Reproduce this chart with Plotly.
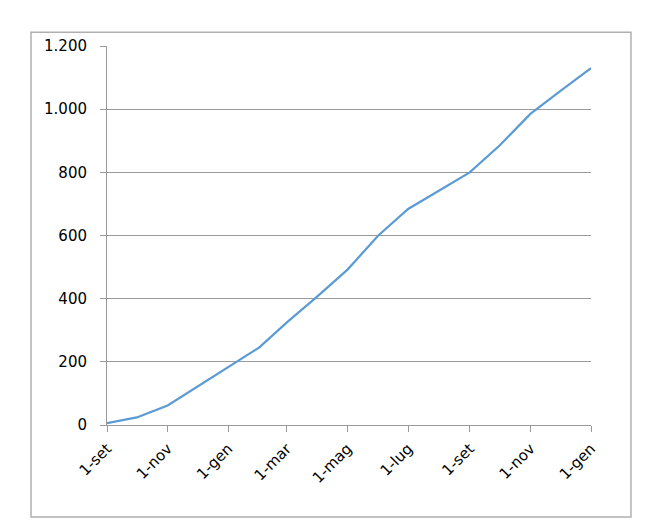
import plotly.graph_objects as go

dates = ["2013-09-01", "2013-10-01", "2013-11-01", "2013-12-01", "2014-01-01",
         "2014-02-01", "2014-03-01", "2014-04-01", "2014-05-01", "2014-06-01",
         "2014-07-01", "2014-08-01", "2014-09-01", "2014-10-01", "2014-11-01",
         "2014-12-01", "2015-01-01"]
values = [6, 24, 62, 121, 182, 245, 325, 408, 492, 600, 684, 742, 800, 885, 985, 1057, 1130]

tick_dates = ["2013-09-01", "2013-11-01", "2014-01-01", "2014-03-01", "2014-05-01",
              "2014-07-01", "2014-09-01", "2014-11-01", "2015-01-01"]
tick_labels = ["1-set", "1-nov", "1-gen", "1-mar", "1-mag", "1-lug", "1-set", "1-nov", "1-gen"]
y_ticks = [0, 200, 400, 600, 800, 1000, 1200]

fig = go.Figure()
fig.add_trace(go.Scatter(x=dates, y=values, mode="lines",
                         line=dict(color="#5b9bd5", width=2.2), showlegend=False))

grid = "#9a9a9a"
fig.update_layout(
    width=640, height=522,
    margin=dict(l=99, r=57, t=38, b=105),
    paper_bgcolor="white", plot_bgcolor="white",
    separators=",.",
    font=dict(family="'DejaVu Sans', sans-serif", size=15, color="black"),
    xaxis=dict(range=[dates[0], tick_dates[-1]], tickvals=tick_dates, ticktext=tick_labels,
               tickangle=-45, showgrid=False, showline=True, linecolor=grid, linewidth=1,
               ticks="outside", ticklen=6, tickcolor=grid, zeroline=False,
               tickfont=dict(size=15), ticklabelstandoff=2),
    yaxis=dict(range=[0, 1200], tickvals=y_ticks, tickformat=",d", showgrid=True,
               gridcolor=grid, gridwidth=1, showline=True, linecolor=grid, linewidth=1,
               ticks="outside", ticklen=6, tickcolor=grid, zeroline=False,
               tickfont=dict(size=15), ticklabelstandoff=10),
    shapes=[dict(type="rect", xref="paper", yref="paper",
                 x0=-0.157, x1=1.0826, y0=-0.2426, y1=1.036,
                 line=dict(color="#b0b0b0", width=1.5), layer="below")],
)

fig.write_html("out.html")
